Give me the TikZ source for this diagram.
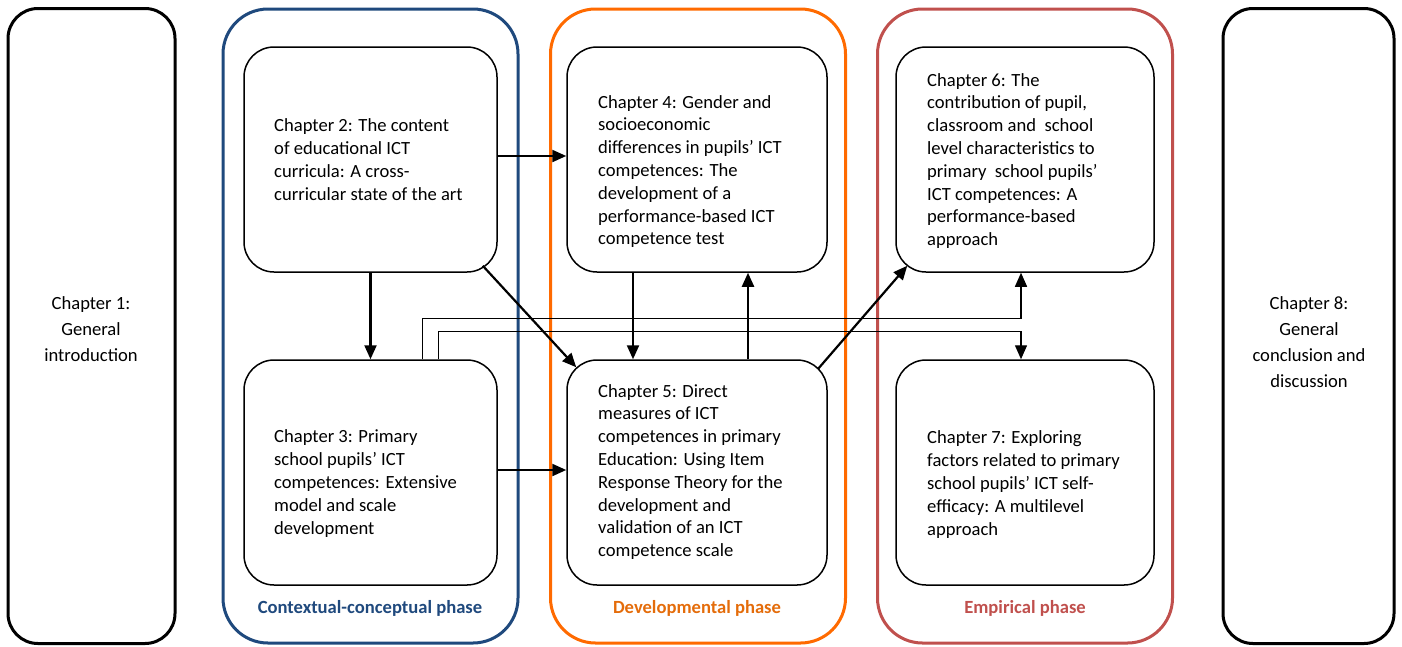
\documentclass[tikz,border=0pt]{standalone}
\usepackage{fontspec}
\setmainfont{Carlito}
\usetikzlibrary{arrows.meta,calc}
\definecolor{phblue}{HTML}{1F497D}
\definecolor{phorange}{HTML}{FF6A00}
\definecolor{phorangetext}{HTML}{E46C0A}
\definecolor{phred}{HTML}{C0504D}
\begin{document}
\begin{tikzpicture}[x=1pt,y=-1pt,
  phase/.style={draw=#1,line width=3pt,rounded corners=45pt,minimum width=295pt,minimum height=634pt,inner sep=0pt},
  outerbox/.style={draw=black,line width=3pt,rounded corners=30pt,minimum height=635pt,inner sep=0pt},
  chbox/.style={draw=black,line width=1.5pt,rounded corners=30pt,minimum height=225pt,inner sep=0pt,fill=white},
  chtext/.style={anchor=west,align=left,inner sep=0pt,font=\fontsize{18.6}{22.8}\selectfont},
  sidetext/.style={align=center,inner sep=0pt,font=\fontsize{18.6}{26}\selectfont},
  phlabel/.style={inner sep=0pt,font=\fontsize{18.6}{20}\selectfont\bfseries},
  arr/.style={line width=2.2pt,-{Triangle[length=14pt,width=12pt]}},
  thinarr/.style={line width=1.4pt,-{Triangle[length=14pt,width=12pt]}}]
\useasboundingbox (0,0) rectangle (1402,646);
% side boxes
\node[outerbox,minimum width=167pt] (ch1) at (91.5,326) {};
\node[outerbox,minimum width=171pt] (ch8) at (1308.5,326) {};
\node[sidetext] (t1) at (91,329) {Chapter 1:\\General\\introduction};
\node[sidetext] (t8) at (1309,342) {Chapter 8:\\General\\conclusion and\\discussion};
% phases
\node[phase=phblue] (p1) at (370.5,326) {};
\node[phase=phorange] (p2) at (698,326) {};
\node[phase=phred] (p3) at (1025,326) {};
\node[phlabel,text=phblue] (l1) at (370,608) {Contextual-conceptual phase};
\node[phlabel,text=phorangetext] (l2) at (697,608) {Developmental phase};
\node[phlabel,text=phred] (l3) at (1025,608) {Empirical phase};
% chapter boxes
\node[chbox,minimum width=253pt] (ch2) at (370.5,159.5) {};
\node[chbox,minimum width=253pt] (ch3) at (370.5,472.5) {};
\node[chbox,minimum width=260pt] (ch4) at (697,159.5) {};
\node[chbox,minimum width=260pt] (ch5) at (697,472.5) {};
\node[chbox,minimum width=258pt] (ch6) at (1025,159.5) {};
\node[chbox,minimum width=258pt] (ch7) at (1025,472.5) {};
\node[chtext] (t2) at (274,159.5) {Chapter 2: The content\\of educational ICT\\curricula: A cross-\\curricular state of the art};
\node[chtext] (t3) at (274,483.5) {Chapter 3: Primary\\school pupils’ ICT\\competences: Extensive\\model and scale\\development};
\node[chtext] (t4) at (598,171.5) {Chapter 4: Gender and\\socioeconomic\\differences in pupils’ ICT\\competences: The\\development of a\\performance-based ICT\\competence test};
\node[chtext] (t5) at (598,472) {Chapter 5: Direct\\measures of ICT\\competences in primary\\Education: Using Item\\Response Theory for the\\development and\\validation of an ICT\\competence scale};
\node[chtext] (t6) at (927,161) {Chapter 6: The\\contribution of pupil,\\classroom and\ \ school\\level characteristics to\\primary\ \ school pupils’\\ICT competences: A\\performance-based\\approach};
\node[chtext] (t7) at (927,484.5) {Chapter 7: Exploring\\factors related to primary\\school pupils’ ICT self-\\efficacy: A multilevel\\approach};
% connectors
\draw[arr] ($(ch2.east)+(0,-3.5)$) -- ($(ch4.west)+(0,-3.5)$);
\draw[arr] ($(ch3.east)+(0,-2.5)$) -- ($(ch5.west)+(0,-2.5)$);
\draw[arr] (ch2.south) -- (ch3.north);
\draw[arr] ($(ch2.south east)+(-15,-7)$) -- ($(ch5.north west)+(10,8)$);
\draw[arr] ($(ch4.south)+(-64,0)$) -- ($(ch5.north)+(-64,0)$);
\draw[arr] ($(ch5.north)+(51,0)$) -- ($(ch4.south)+(51,0)$);
\draw[arr] ($(ch5.north east)+(-10,10)$) -- ($(ch6.south west)+(12,-7)$);
\coordinate (k1) at ($(ch6.south)+(-4,46)$);
\coordinate (k2) at ($(ch7.north)+(-4,-28)$);
\draw[thinarr] ($(ch3.north)+(52,0)$) |- (k1) -- ($(ch6.south)+(-4,0)$);
\draw[thinarr] ($(ch3.north)+(68,0)$) |- (k2) -- ($(ch7.north)+(-4,0)$);
\end{tikzpicture}
\end{document}
